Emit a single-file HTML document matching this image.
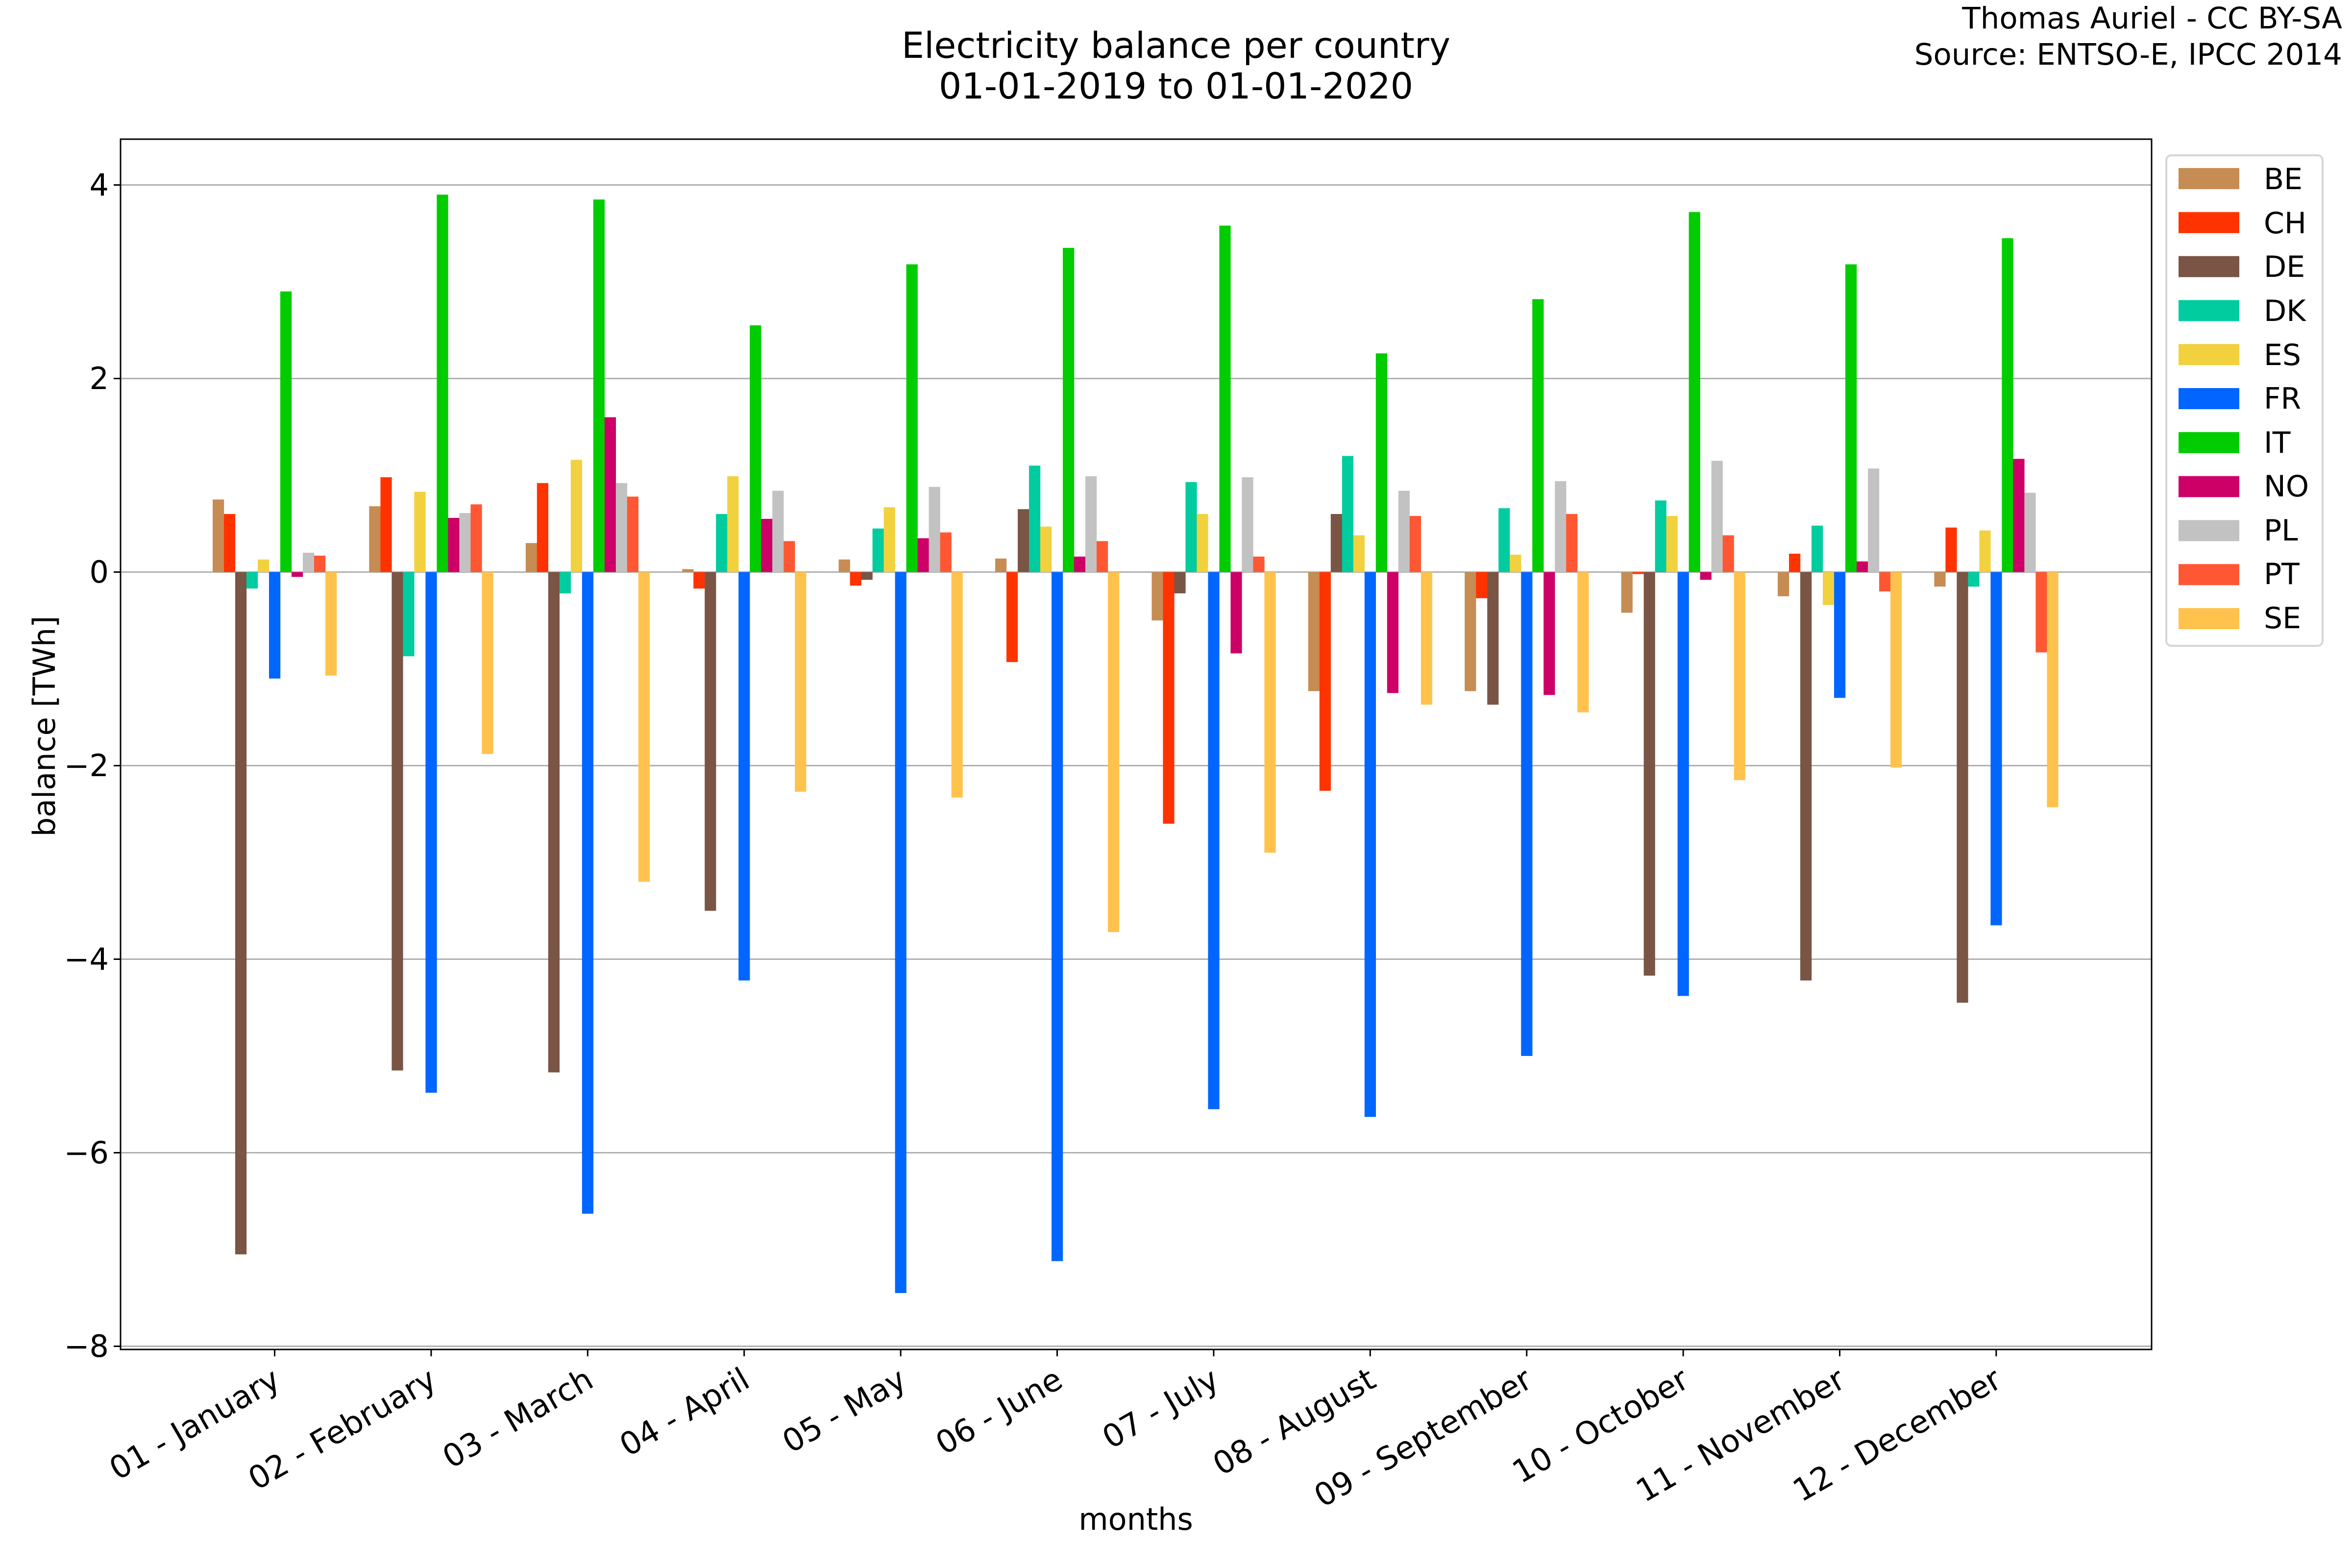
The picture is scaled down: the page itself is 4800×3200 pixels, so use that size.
<!DOCTYPE html>
<html><head><meta charset="utf-8"><style>
html,body{margin:0;padding:0;background:#fff}
svg{display:block}
text{font-family:"DejaVu Sans","Liberation Sans",sans-serif;fill:#000}
</style></head><body>
<svg id="s" width="4800" height="3200" viewBox="0 0 4800 3200" xmlns="http://www.w3.org/2000/svg">
<rect width="4800" height="3200" fill="#fff"/>
<g stroke="#b0b0b0" stroke-width="3">
<line x1="246" x2="4391" y1="377.5" y2="377.5"/>
<line x1="246" x2="4391" y1="772.5" y2="772.5"/>
<line x1="246" x2="4391" y1="1167.5" y2="1167.5"/>
<line x1="246" x2="4391" y1="1562.5" y2="1562.5"/>
<line x1="246" x2="4391" y1="1957.5" y2="1957.5"/>
<line x1="246" x2="4391" y1="2352.5" y2="2352.5"/>
<line x1="246" x2="4391" y1="2747.5" y2="2747.5"/>
</g>
<g id="bars"></g>
<rect x="246" y="284" width="4145" height="2470" fill="none" stroke="#000" stroke-width="3"/>
<g stroke="#000" stroke-width="3">
<line x1="232" x2="246" y1="377.5" y2="377.5"/><line x1="232" x2="246" y1="772.5" y2="772.5"/>
<line x1="232" x2="246" y1="1167.5" y2="1167.5"/><line x1="232" x2="246" y1="1562.5" y2="1562.5"/>
<line x1="232" x2="246" y1="1957.5" y2="1957.5"/><line x1="232" x2="246" y1="2352.5" y2="2352.5"/>
<line x1="232" x2="246" y1="2747.5" y2="2747.5"/>
</g>
<g font-size="62" text-anchor="end">
<text x="222" y="399">4</text><text x="222" y="794">2</text><text x="222" y="1189">0</text>
<text x="222" y="1584">−2</text><text x="222" y="1979">−4</text><text x="222" y="2374">−6</text><text x="222" y="2769">−8</text>
</g>
<g id="xt" stroke="#000" stroke-width="3"></g>
<g font-size="64" text-anchor="end">
<text transform="translate(576,2828) rotate(-30)">01 - January</text>
<text transform="translate(895,2828) rotate(-30)">02 - February</text>
<text transform="translate(1215,2828) rotate(-30)">03 - March</text>
<text transform="translate(1534,2828) rotate(-30)">04 - April</text>
<text transform="translate(1854,2828) rotate(-30)">05 - May</text>
<text transform="translate(2173,2828) rotate(-30)">06 - June</text>
<text transform="translate(2492,2828) rotate(-30)">07 - July</text>
<text transform="translate(2812,2828) rotate(-30)">08 - August</text>
<text transform="translate(3131,2828) rotate(-30)">09 - September</text>
<text transform="translate(3451,2828) rotate(-30)">10 - October</text>
<text transform="translate(3770,2828) rotate(-30)">11 - November</text>
<text transform="translate(4089,2828) rotate(-30)">12 - December</text>
</g>
<text x="2318" y="3122" font-size="62" text-anchor="middle">months</text>
<text transform="translate(112,1482) rotate(-90)" font-size="62" text-anchor="middle">balance [TWh]</text>
<g font-size="73" text-anchor="middle">
<text x="2400" y="118">Electricity balance per country</text>
<text x="2400" y="201">01-01-2019 to 01-01-2020</text>
</g>
<g font-size="61" text-anchor="end">
<text x="4780" y="58">Thomas Auriel - CC BY-SA</text>
<text x="4780" y="132">Source: ENTSO-E, IPCC 2014</text>
</g>
<rect x="4421" y="317" width="319" height="1001" rx="10" fill="#fff" stroke="#d6d6d6" stroke-width="4"/>
<g id="leg"></g>
<g font-size="60">
<text x="4620" y="386">BE</text><text x="4620" y="476">CH</text><text x="4620" y="565">DE</text>
<text x="4620" y="655">DK</text><text x="4620" y="745">ES</text><text x="4620" y="834">FR</text>
<text x="4620" y="924">IT</text><text x="4620" y="1013">NO</text><text x="4620" y="1103">PL</text>
<text x="4620" y="1192">PT</text><text x="4620" y="1282">SE</text>
</g>
</svg>
<script>
var C=["#c68c53","#ff3300","#7a5444","#00cc9f","#f2d13f","#0066ff","#00cc00","#cc0066","#c2c2c2","#ff5733","#ffc34d"];
var D=[
[0.75,0.6,-7.05,-0.17,0.13,-1.1,2.9,-0.05,0.2,0.17,-1.07],
[0.68,0.98,-5.15,-0.87,0.83,-5.38,3.9,0.56,0.61,0.7,-1.88],
[0.3,0.92,-5.17,-0.22,1.16,-6.63,3.85,1.6,0.92,0.78,-3.2],
[0.03,-0.17,-3.5,0.6,0.99,-4.22,2.55,0.55,0.84,0.32,-2.27],
[0.13,-0.14,-0.08,0.45,0.67,-7.45,3.18,0.35,0.88,0.41,-2.33],
[0.14,-0.93,0.65,1.1,0.47,-7.12,3.35,0.16,0.99,0.32,-3.72],
[-0.5,-2.6,-0.22,0.93,0.6,-5.55,3.58,-0.84,0.98,0.16,-2.9],
[-1.23,-2.26,0.6,1.2,0.38,-5.63,2.26,-1.25,0.84,0.58,-1.37],
[-1.23,-0.27,-1.37,0.66,0.18,-5.0,2.82,-1.27,0.94,0.6,-1.45],
[-0.42,-0.02,-4.17,0.74,0.58,-4.38,3.72,-0.08,1.15,0.38,-2.15],
[-0.25,0.19,-4.22,0.48,-0.34,-1.3,3.18,0.11,1.07,-0.2,-2.02],
[-0.15,0.46,-4.45,-0.15,0.43,-3.65,3.45,1.17,0.82,-0.83,-2.43]];
var ns="http://www.w3.org/2000/svg",g=document.getElementById("bars"),xt=document.getElementById("xt"),lg=document.getElementById("leg");
function r(p,x,y,w,h,c){var e=document.createElementNS(ns,"rect");e.setAttribute("x",x);e.setAttribute("y",y);e.setAttribute("width",w);e.setAttribute("height",h);e.setAttribute("fill",c);p.appendChild(e);}
for(var i=0;i<12;i++){var cx=560.5+319.4*i;
 var l=document.createElementNS(ns,"line");l.setAttribute("x1",cx);l.setAttribute("x2",cx);l.setAttribute("y1",2754);l.setAttribute("y2",2768);xt.appendChild(l);
 for(var j=0;j<11;j++){var v=D[i][j],x=cx+(j-5.5)*23,y0=1167.5,y1=y0-197.5*v;r(g,x,Math.min(y0,y1),23.2,Math.abs(y1-y0),C[j]);}}
for(var j=0;j<11;j++)r(lg,4446,343+89.8*j,124,43,C[j]);
</script>
</body></html>
